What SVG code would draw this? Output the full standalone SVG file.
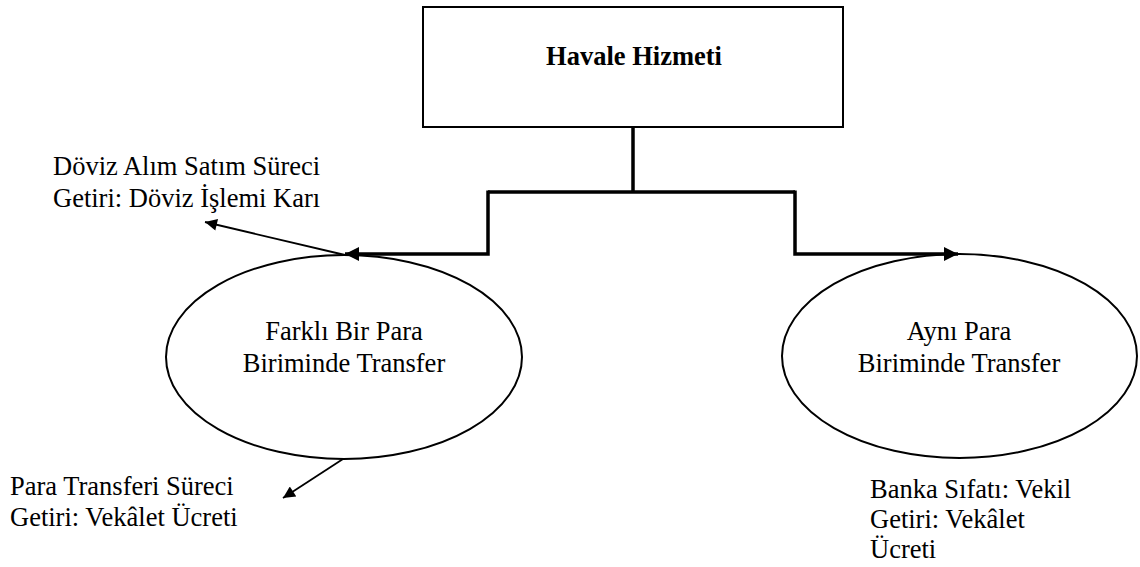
<svg xmlns="http://www.w3.org/2000/svg" width="1140" height="567" viewBox="0 0 1140 567">
<style>
text{font-family:"Liberation Serif","Times New Roman",serif;font-size:26.5px;fill:#000}
.b{font-weight:bold}
.node{fill:#fff;stroke:#000;stroke-width:2}
.thick{fill:none;stroke:#000;stroke-width:3.5}
.thin{fill:none;stroke:#000;stroke-width:1.8}
</style>
<defs>
<marker id="ah" viewBox="0 0 10 10" refX="10" refY="5" markerWidth="15" markerHeight="14" markerUnits="userSpaceOnUse" orient="auto"><path d="M0,0L10,5L0,10z" fill="#000"/></marker>
<marker id="ah2" viewBox="0 0 10 10" refX="10" refY="5" markerWidth="15" markerHeight="12" markerUnits="userSpaceOnUse" orient="auto"><path d="M0,0L10,5L0,10z" fill="#000"/></marker>
</defs>
<g id="root"><rect class="node" x="423" y="7" width="420" height="120"/><text class="b" x="634" y="65" text-anchor="middle">Havale Hizmeti</text></g>
<g id="left"><ellipse class="node" cx="344" cy="357" rx="178" ry="102"/><text x="344" y="340" text-anchor="middle">Farklı Bir Para</text><text x="344" y="372" text-anchor="middle">Biriminde Transfer</text></g>
<g id="right"><ellipse class="node" cx="959.5" cy="356" rx="177.5" ry="102"/><text x="959" y="340" text-anchor="middle">Aynı Para</text><text x="959" y="372" text-anchor="middle">Biriminde Transfer</text></g>
<g id="doviz"><text x="53" y="175">Döviz Alım Satım Süreci</text><text x="53" y="207">Getiri: Döviz İşlemi Karı</text></g>
<g id="para"><text x="10" y="495">Para Transferi Süreci</text><text x="10" y="526">Getiri: Vekâlet Ücreti</text></g>
<g id="banka"><text x="870" y="498">Banka Sıfatı: Vekil</text><text x="870" y="528">Getiri: Vekâlet</text><text x="870" y="558">Ücreti</text></g>
<g id="connectors">
<path class="thick" d="M633,127V192M488,192H795"/>
<path class="thick" d="M488,190.5V254H345" marker-end="url(#ah)"/>
<path class="thick" d="M795,190.5V254H958" marker-end="url(#ah)"/>
<path class="thin" d="M345,255L205,222" marker-end="url(#ah2)"/>
<path class="thin" d="M343,459L283,498" marker-end="url(#ah2)"/>
</g>
</svg>
